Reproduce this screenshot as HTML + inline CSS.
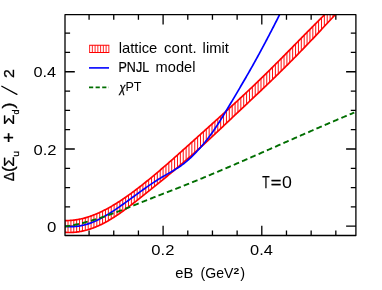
<!DOCTYPE html>
<html><head><meta charset="utf-8"><title>plot</title>
<style>
html,body{margin:0;padding:0;background:#fff;}
body{width:382px;height:290px;overflow:hidden;}
svg{display:block;will-change:transform;}
text{font-family:"Liberation Sans",sans-serif;fill:#000;}
</style></head><body>
<svg width="382" height="290" viewBox="0 0 382 290">
<rect width="382" height="290" fill="#fff"/>
<defs><clipPath id="c"><rect x="65.0" y="14.7" width="290.9" height="220.8"/></clipPath></defs>
<path d="M89.08,235.5v-5.1M89.08,14.7v5.1M113.75,235.5v-5.1M113.75,14.7v5.1M138.43,235.5v-5.1M138.43,14.7v5.1M163.10,235.5v-9.8M163.10,14.7v9.8M187.78,235.5v-5.1M187.78,14.7v5.1M212.45,235.5v-5.1M212.45,14.7v5.1M237.13,235.5v-5.1M237.13,14.7v5.1M261.80,235.5v-9.8M261.80,14.7v9.8M286.48,235.5v-5.1M286.48,14.7v5.1M311.15,235.5v-5.1M311.15,14.7v5.1M335.83,235.5v-5.1M335.83,14.7v5.1M65.0,226.20h9.8M355.9,226.20h-9.8M65.0,206.89h5.1M355.9,206.89h-5.1M65.0,187.59h5.1M355.9,187.59h-5.1M65.0,168.28h5.1M355.9,168.28h-5.1M65.0,148.98h9.8M355.9,148.98h-9.8M65.0,129.67h5.1M355.9,129.67h-5.1M65.0,110.37h5.1M355.9,110.37h-5.1M65.0,91.06h5.1M355.9,91.06h-5.1M65.0,71.76h9.8M355.9,71.76h-9.8M65.0,52.45h5.1M355.9,52.45h-5.1M65.0,33.15h5.1M355.9,33.15h-5.1" stroke="#000" stroke-width="1.3" fill="none"/>
<g clip-path="url(#c)" fill="none">
<path d="M65.15,220.51V232.40M68.03,220.51V232.51M70.91,220.38V232.48M73.79,220.11V232.33M76.67,219.72V232.04M79.55,219.20V231.62M82.43,218.56V231.08M85.31,217.81V230.41M88.19,216.94V229.61M91.07,215.97V228.69M93.95,214.89V227.65M96.83,213.71V226.49M99.71,212.43V225.21M102.59,211.07V223.81M105.47,209.61V222.30M108.35,208.06V220.68M111.23,206.44V218.96M114.11,204.74V217.14M116.99,202.96V215.24M119.87,201.12V213.27M122.75,199.21V211.23M125.63,197.24V209.13M128.51,195.21V206.99M131.39,193.13V204.80M134.27,190.99V202.57M137.15,188.82V200.32M140.03,186.59V198.06M142.91,184.34V195.78M145.79,182.04V193.49M148.67,179.71V191.20M151.55,177.35V188.89M154.43,174.96V186.58M157.31,172.54V184.25M160.19,170.09V181.90M163.07,167.63V179.55M165.95,165.14V177.18M168.83,162.63V174.79M171.71,160.10V172.39M174.59,157.56V169.98M177.47,155.00V167.54M180.35,152.44V165.09M183.23,149.86V162.62M186.11,147.28V160.14M188.99,144.69V157.63M191.87,142.10V155.10M194.75,139.51V152.55M197.63,136.92V149.98M200.51,134.33V147.39M203.39,131.74V144.77M206.27,129.15V142.13M209.15,126.56V139.47M212.03,123.97V136.79M214.91,121.37V134.08M217.79,118.77V131.37M220.67,116.16V128.64M223.55,113.55V125.91M226.43,110.93V123.17M229.31,108.30V120.44M232.19,105.66V117.70M235.07,103.01V114.97M237.95,100.35V112.25M240.83,97.68V109.54M243.71,95.00V106.83M246.59,92.30V104.12M249.47,89.59V101.41M252.35,86.86V98.70M255.23,84.11V95.99M258.11,81.35V93.27M260.99,78.57V90.54M263.87,75.77V87.80M266.75,72.95V85.05M269.63,70.11V82.28M272.51,67.25V79.50M275.39,64.37V76.70M278.27,61.49V73.89M281.15,58.59V71.06M284.03,55.68V68.22M286.91,52.76V65.35M289.79,49.84V62.47M292.67,46.91V59.57M295.55,43.98V56.65M298.43,41.04V53.71M301.31,38.11V50.75M304.19,35.18V47.78M307.07,32.26V44.77M309.95,29.35V41.75M312.83,26.44V38.71M315.71,23.54V35.65M318.59,20.66V32.57M321.47,17.79V29.48M324.35,14.93V26.39M327.23,14.70V23.29M330.11,14.70V20.19M332.99,14.70V17.09" stroke="#ff0000" stroke-width="0.95"/>
<path d="M64.40,220.49 L65.30,220.51 L66.20,220.53 L67.11,220.53 L68.01,220.51 L68.91,220.49 L69.81,220.45 L70.71,220.39 L71.61,220.33 L72.52,220.25 L73.42,220.15 L74.32,220.05 L75.22,219.93 L76.12,219.80 L77.02,219.66 L77.93,219.51 L78.83,219.34 L79.73,219.17 L80.63,218.98 L81.53,218.78 L82.43,218.56 L83.34,218.34 L84.24,218.10 L85.14,217.86 L86.04,217.60 L86.94,217.33 L87.84,217.05 L88.75,216.76 L89.65,216.46 L90.55,216.15 L91.45,215.83 L92.35,215.50 L93.25,215.16 L94.16,214.81 L95.06,214.45 L95.96,214.08 L96.86,213.70 L97.76,213.31 L98.66,212.91 L99.57,212.50 L100.47,212.08 L101.37,211.66 L102.27,211.22 L103.17,210.78 L104.07,210.32 L104.98,209.86 L105.88,209.39 L106.78,208.92 L107.68,208.43 L108.58,207.94 L109.48,207.43 L110.39,206.92 L111.29,206.41 L112.19,205.88 L113.09,205.35 L113.99,204.81 L114.89,204.26 L115.80,203.71 L116.70,203.15 L117.60,202.58 L118.50,202.00 L119.40,201.42 L120.30,200.84 L121.21,200.24 L122.11,199.64 L123.01,199.03 L123.91,198.42 L124.81,197.80 L125.71,197.18 L126.62,196.55 L127.52,195.92 L128.42,195.27 L129.32,194.63 L130.22,193.98 L131.12,193.32 L132.03,192.66 L132.93,191.99 L133.83,191.32 L134.73,190.65 L135.63,189.97 L136.53,189.29 L137.44,188.60 L138.34,187.90 L139.24,187.21 L140.14,186.51 L141.04,185.80 L141.94,185.10 L142.85,184.39 L143.75,183.67 L144.65,182.95 L145.55,182.23 L146.45,181.51 L147.35,180.78 L148.26,180.05 L149.16,179.31 L150.06,178.58 L150.96,177.83 L151.86,177.09 L152.76,176.34 L153.67,175.60 L154.57,174.84 L155.47,174.09 L156.37,173.33 L157.27,172.57 L158.17,171.81 L159.08,171.04 L159.98,170.28 L160.88,169.51 L161.78,168.73 L162.68,167.96 L163.58,167.18 L164.49,166.40 L165.39,165.62 L166.29,164.84 L167.19,164.06 L168.09,163.27 L168.99,162.48 L169.90,161.69 L170.80,160.90 L171.70,160.11 L172.60,159.31 L173.50,158.52 L174.40,157.72 L175.31,156.92 L176.21,156.12 L177.11,155.32 L178.01,154.52 L178.91,153.72 L179.81,152.91 L180.72,152.11 L181.62,151.30 L182.52,150.50 L183.42,149.69 L184.32,148.88 L185.22,148.07 L186.13,147.26 L187.03,146.45 L187.93,145.64 L188.83,144.83 L189.73,144.02 L190.63,143.21 L191.54,142.40 L192.44,141.59 L193.34,140.78 L194.24,139.97 L195.14,139.15 L196.04,138.34 L196.95,137.53 L197.85,136.72 L198.75,135.91 L199.65,135.10 L200.55,134.29 L201.45,133.48 L202.36,132.67 L203.26,131.86 L204.16,131.05 L205.06,130.24 L205.96,129.43 L206.86,128.62 L207.77,127.81 L208.67,126.99 L209.57,126.18 L210.47,125.37 L211.37,124.56 L212.27,123.75 L213.18,122.93 L214.08,122.12 L214.98,121.31 L215.88,120.49 L216.78,119.68 L217.68,118.86 L218.59,118.05 L219.49,117.23 L220.39,116.42 L221.29,115.60 L222.19,114.78 L223.09,113.96 L224.00,113.14 L224.90,112.32 L225.80,111.50 L226.70,110.68 L227.60,109.86 L228.50,109.03 L229.41,108.21 L230.31,107.39 L231.21,106.56 L232.11,105.73 L233.01,104.91 L233.91,104.08 L234.82,103.25 L235.72,102.42 L236.62,101.58 L237.52,100.75 L238.42,99.92 L239.32,99.08 L240.23,98.24 L241.13,97.41 L242.03,96.57 L242.93,95.73 L243.83,94.88 L244.73,94.04 L245.64,93.20 L246.54,92.35 L247.44,91.50 L248.34,90.65 L249.24,89.80 L250.14,88.95 L251.05,88.10 L251.95,87.24 L252.85,86.38 L253.75,85.53 L254.65,84.67 L255.55,83.80 L256.46,82.94 L257.36,82.07 L258.26,81.21 L259.16,80.34 L260.06,79.47 L260.96,78.59 L261.87,77.72 L262.77,76.84 L263.67,75.96 L264.57,75.08 L265.47,74.20 L266.37,73.32 L267.28,72.43 L268.18,71.54 L269.08,70.65 L269.98,69.76 L270.88,68.87 L271.78,67.97 L272.69,67.07 L273.59,66.17 L274.49,65.27 L275.39,64.37 L276.29,63.47 L277.19,62.57 L278.10,61.66 L279.00,60.75 L279.90,59.85 L280.80,58.94 L281.70,58.03 L282.60,57.12 L283.51,56.21 L284.41,55.29 L285.31,54.38 L286.21,53.47 L287.11,52.55 L288.01,51.64 L288.92,50.72 L289.82,49.81 L290.72,48.89 L291.62,47.97 L292.52,47.06 L293.42,46.14 L294.33,45.22 L295.23,44.30 L296.13,43.39 L297.03,42.47 L297.93,41.55 L298.83,40.63 L299.74,39.71 L300.64,38.80 L301.54,37.88 L302.44,36.96 L303.34,36.05 L304.24,35.13 L305.15,34.21 L306.05,33.30 L306.95,32.38 L307.85,31.47 L308.75,30.56 L309.65,29.64 L310.56,28.73 L311.46,27.82 L312.36,26.91 L313.26,26.00 L314.16,25.10 L315.06,24.19 L315.97,23.28 L316.87,22.38 L317.77,21.48 L318.67,20.57 L319.57,19.67 L320.47,18.78 L321.38,17.88 L322.28,16.98 L323.18,16.09 L324.08,15.20 L324.98,14.31 L325.88,13.42 L326.79,12.53 L327.69,11.64 L328.59,10.76 L329.49,9.88 L330.39,9.00 L331.29,8.12 L332.20,7.25 L333.10,6.38 L334.00,5.51" stroke="#ff0000" stroke-width="1.7"/>
<path d="M64.40,232.35 L65.34,232.41 L66.27,232.46 L67.21,232.49 L68.15,232.51 L69.08,232.51 L70.02,232.50 L70.95,232.48 L71.89,232.44 L72.83,232.39 L73.76,232.33 L74.70,232.25 L75.64,232.16 L76.57,232.05 L77.51,231.93 L78.44,231.80 L79.38,231.65 L80.32,231.49 L81.25,231.31 L82.19,231.13 L83.13,230.93 L84.06,230.71 L85.00,230.48 L85.93,230.24 L86.87,229.99 L87.81,229.72 L88.74,229.44 L89.68,229.15 L90.62,228.84 L91.55,228.53 L92.49,228.19 L93.42,227.85 L94.36,227.49 L95.30,227.12 L96.23,226.74 L97.17,226.34 L98.11,225.94 L99.04,225.52 L99.98,225.08 L100.92,224.64 L101.85,224.18 L102.79,223.71 L103.72,223.23 L104.66,222.73 L105.60,222.23 L106.53,221.71 L107.47,221.18 L108.41,220.64 L109.34,220.09 L110.28,219.53 L111.21,218.96 L112.15,218.38 L113.09,217.80 L114.02,217.20 L114.96,216.59 L115.90,215.97 L116.83,215.35 L117.77,214.72 L118.70,214.08 L119.64,213.43 L120.58,212.78 L121.51,212.12 L122.45,211.45 L123.39,210.77 L124.32,210.09 L125.26,209.41 L126.19,208.72 L127.13,208.02 L128.07,207.32 L129.00,206.61 L129.94,205.90 L130.88,205.19 L131.81,204.47 L132.75,203.75 L133.69,203.03 L134.62,202.30 L135.56,201.57 L136.49,200.84 L137.43,200.10 L138.37,199.37 L139.30,198.63 L140.24,197.89 L141.18,197.15 L142.11,196.41 L143.05,195.67 L143.98,194.93 L144.92,194.19 L145.86,193.44 L146.79,192.70 L147.73,191.95 L148.67,191.20 L149.60,190.45 L150.54,189.70 L151.47,188.95 L152.41,188.20 L153.35,187.45 L154.28,186.69 L155.22,185.94 L156.16,185.18 L157.09,184.42 L158.03,183.66 L158.97,182.90 L159.90,182.14 L160.84,181.38 L161.77,180.61 L162.71,179.84 L163.65,179.07 L164.58,178.30 L165.52,177.53 L166.46,176.76 L167.39,175.99 L168.33,175.21 L169.26,174.43 L170.20,173.65 L171.14,172.87 L172.07,172.09 L173.01,171.30 L173.95,170.52 L174.88,169.73 L175.82,168.94 L176.75,168.15 L177.69,167.36 L178.63,166.56 L179.56,165.76 L180.50,164.96 L181.44,164.16 L182.37,163.36 L183.31,162.56 L184.24,161.75 L185.18,160.94 L186.12,160.13 L187.05,159.32 L187.99,158.50 L188.93,157.68 L189.86,156.86 L190.80,156.04 L191.74,155.22 L192.67,154.39 L193.61,153.56 L194.54,152.73 L195.48,151.90 L196.42,151.07 L197.35,150.23 L198.29,149.39 L199.23,148.55 L200.16,147.70 L201.10,146.86 L202.03,146.01 L202.97,145.15 L203.91,144.30 L204.84,143.44 L205.78,142.58 L206.72,141.72 L207.65,140.86 L208.59,139.99 L209.52,139.12 L210.46,138.25 L211.40,137.38 L212.33,136.50 L213.27,135.62 L214.21,134.75 L215.14,133.87 L216.08,132.98 L217.01,132.10 L217.95,131.22 L218.89,130.33 L219.82,129.45 L220.76,128.56 L221.70,127.67 L222.63,126.78 L223.57,125.89 L224.51,125.00 L225.44,124.11 L226.38,123.22 L227.31,122.33 L228.25,121.44 L229.19,120.55 L230.12,119.66 L231.06,118.78 L232.00,117.89 L232.93,117.00 L233.87,116.11 L234.80,115.22 L235.74,114.34 L236.68,113.45 L237.61,112.57 L238.55,111.69 L239.49,110.80 L240.42,109.92 L241.36,109.04 L242.29,108.16 L243.23,107.28 L244.17,106.40 L245.10,105.52 L246.04,104.64 L246.98,103.76 L247.91,102.88 L248.85,102.00 L249.78,101.12 L250.72,100.24 L251.66,99.35 L252.59,98.47 L253.53,97.59 L254.47,96.71 L255.40,95.83 L256.34,94.94 L257.28,94.06 L258.21,93.17 L259.15,92.29 L260.08,91.40 L261.02,90.51 L261.96,89.62 L262.89,88.73 L263.83,87.84 L264.77,86.95 L265.70,86.05 L266.64,85.16 L267.57,84.26 L268.51,83.36 L269.45,82.46 L270.38,81.56 L271.32,80.65 L272.26,79.75 L273.19,78.84 L274.13,77.93 L275.06,77.02 L276.00,76.11 L276.94,75.19 L277.87,74.28 L278.81,73.36 L279.75,72.44 L280.68,71.52 L281.62,70.60 L282.56,69.68 L283.49,68.75 L284.43,67.82 L285.36,66.89 L286.30,65.96 L287.24,65.03 L288.17,64.09 L289.11,63.15 L290.05,62.21 L290.98,61.27 L291.92,60.33 L292.85,59.38 L293.79,58.44 L294.73,57.49 L295.66,56.54 L296.60,55.58 L297.54,54.63 L298.47,53.67 L299.41,52.71 L300.34,51.75 L301.28,50.78 L302.22,49.82 L303.15,48.85 L304.09,47.88 L305.03,46.91 L305.96,45.93 L306.90,44.95 L307.83,43.97 L308.77,42.99 L309.71,42.01 L310.64,41.02 L311.58,40.03 L312.52,39.04 L313.45,38.05 L314.39,37.05 L315.33,36.06 L316.26,35.06 L317.20,34.06 L318.13,33.06 L319.07,32.06 L320.01,31.05 L320.94,30.05 L321.88,29.04 L322.82,28.04 L323.75,27.03 L324.69,26.02 L325.62,25.02 L326.56,24.01 L327.50,23.00 L328.43,21.99 L329.37,20.99 L330.31,19.98 L331.24,18.97 L332.18,17.96 L333.11,16.96 L334.05,15.95 L334.99,14.95 L335.92,13.94 L336.86,12.94 L337.80,11.94 L338.73,10.94 L339.67,9.94 L340.60,8.94 L341.54,7.95 L342.48,6.96 L343.41,5.96 L344.35,4.98" stroke="#ff0000" stroke-width="1.7"/>
<path d="M64.40,226.20 L65.14,226.30 L65.88,226.38 L66.61,226.45 L67.35,226.51 L68.09,226.56 L68.83,226.59 L69.56,226.62 L70.30,226.64 L71.04,226.64 L71.78,226.63 L72.52,226.62 L73.25,226.59 L73.99,226.55 L74.73,226.50 L75.47,226.44 L76.20,226.37 L76.94,226.29 L77.68,226.20 L78.42,226.10 L79.16,225.99 L79.89,225.87 L80.63,225.73 L81.37,225.59 L82.11,225.44 L82.84,225.28 L83.58,225.11 L84.32,224.92 L85.06,224.73 L85.80,224.53 L86.53,224.32 L87.27,224.10 L88.01,223.87 L88.75,223.63 L89.48,223.38 L90.22,223.12 L90.96,222.86 L91.70,222.58 L92.44,222.29 L93.17,222.00 L93.91,221.69 L94.65,221.38 L95.39,221.06 L96.13,220.72 L96.86,220.38 L97.60,220.03 L98.34,219.68 L99.08,219.31 L99.81,218.94 L100.55,218.56 L101.29,218.17 L102.03,217.78 L102.77,217.37 L103.50,216.97 L104.24,216.55 L104.98,216.13 L105.72,215.70 L106.45,215.26 L107.19,214.82 L107.93,214.37 L108.67,213.92 L109.41,213.46 L110.14,213.00 L110.88,212.53 L111.62,212.06 L112.36,211.58 L113.09,211.10 L113.83,210.61 L114.57,210.12 L115.31,209.63 L116.05,209.13 L116.78,208.63 L117.52,208.12 L118.26,207.61 L119.00,207.10 L119.73,206.59 L120.47,206.07 L121.21,205.55 L121.95,205.03 L122.69,204.51 L123.42,203.98 L124.16,203.45 L124.90,202.92 L125.64,202.39 L126.37,201.86 L127.11,201.32 L127.85,200.79 L128.59,200.25 L129.33,199.72 L130.06,199.18 L130.80,198.64 L131.54,198.10 L132.28,197.56 L133.01,197.02 L133.75,196.48 L134.49,195.94 L135.23,195.41 L135.97,194.87 L136.70,194.33 L137.44,193.79 L138.18,193.25 L138.92,192.72 L139.65,192.18 L140.39,191.65 L141.13,191.12 L141.87,190.58 L142.61,190.05 L143.34,189.53 L144.08,189.00 L144.82,188.48 L145.56,187.95 L146.29,187.43 L147.03,186.92 L147.77,186.40 L148.51,185.89 L149.25,185.38 L149.98,184.87 L150.72,184.37 L151.46,183.87 L152.20,183.38 L152.94,182.88 L153.67,182.39 L154.41,181.91 L155.15,181.42 L155.89,180.95 L156.62,180.47 L157.36,180.00 L158.10,179.54 L158.84,179.08 L159.58,178.62 L160.31,178.17 L161.05,177.73 L161.79,177.29 L162.53,176.85 L163.26,176.42 L164.00,175.99 L164.74,175.57 L165.48,175.14 L166.22,174.72 L166.95,174.30 L167.69,173.88 L168.43,173.46 L169.17,173.04 L169.90,172.62 L170.64,172.19 L171.38,171.76 L172.12,171.33 L172.86,170.90 L173.59,170.46 L174.33,170.02 L175.07,169.57 L175.81,169.11 L176.54,168.65 L177.28,168.18 L178.02,167.70 L178.76,167.21 L179.50,166.71 L180.23,166.21 L180.97,165.69 L181.71,165.16 L182.45,164.62 L183.18,164.07 L183.92,163.50 L184.66,162.92 L185.40,162.33 L186.14,161.72 L186.87,161.09 L187.61,160.45 L188.35,159.80 L189.09,159.13 L189.82,158.45 L190.56,157.76 L191.30,157.06 L192.04,156.34 L192.78,155.61 L193.51,154.87 L194.25,154.12 L194.99,153.36 L195.73,152.59 L196.46,151.81 L197.20,151.03 L197.94,150.23 L198.68,149.43 L199.42,148.62 L200.15,147.81 L200.89,146.98 L201.63,146.15 L202.37,145.30 L203.11,144.44 L203.84,143.57 L204.58,142.69 L205.32,141.79 L206.06,140.87 L206.79,139.94 L207.53,138.99 L208.27,138.02 L209.01,137.04 L209.75,136.05 L210.48,135.04 L211.22,134.01 L211.96,132.97 L212.70,131.92 L213.43,130.86 L214.17,129.78 L214.91,128.69 L215.65,127.59 L216.39,126.48 L217.12,125.36 L217.86,124.23 L218.60,123.08 L219.34,121.93 L220.07,120.77 L220.81,119.60 L221.55,118.42 L222.29,117.24 L223.03,116.04 L223.76,114.84 L224.50,113.64 L225.24,112.42 L225.98,111.20 L226.71,109.98 L227.45,108.75 L228.19,107.52 L228.93,106.29 L229.67,105.05 L230.40,103.80 L231.14,102.56 L231.88,101.31 L232.62,100.06 L233.35,98.81 L234.09,97.56 L234.83,96.31 L235.57,95.06 L236.31,93.81 L237.04,92.56 L237.78,91.31 L238.52,90.06 L239.26,88.81 L239.99,87.56 L240.73,86.30 L241.47,85.05 L242.21,83.79 L242.95,82.53 L243.68,81.27 L244.42,80.00 L245.16,78.73 L245.90,77.46 L246.63,76.19 L247.37,74.91 L248.11,73.62 L248.85,72.33 L249.59,71.04 L250.32,69.74 L251.06,68.44 L251.80,67.13 L252.54,65.82 L253.27,64.50 L254.01,63.18 L254.75,61.85 L255.49,60.52 L256.23,59.18 L256.96,57.84 L257.70,56.50 L258.44,55.15 L259.18,53.80 L259.92,52.44 L260.65,51.07 L261.39,49.70 L262.13,48.33 L262.87,46.95 L263.60,45.57 L264.34,44.18 L265.08,42.79 L265.82,41.40 L266.56,40.00 L267.29,38.60 L268.03,37.19 L268.77,35.78 L269.51,34.37 L270.24,32.95 L270.98,31.53 L271.72,30.10 L272.46,28.68 L273.20,27.25 L273.93,25.81 L274.67,24.37 L275.41,22.93 L276.15,21.49 L276.88,20.05 L277.62,18.60 L278.36,17.15 L279.10,15.70 L279.84,14.24 L280.57,12.78 L281.31,11.32 L282.05,9.86 L282.79,8.40 L283.52,6.93 L284.26,5.46 L285.00,4.00" stroke="#0000ff" stroke-width="1.7"/>
<path d="M64.40,226.65 L65.37,226.51 L66.34,226.36 L67.31,226.21 L68.28,226.05 L69.25,225.88 L70.22,225.71 L71.19,225.53 L72.16,225.34 L73.13,225.15 L74.10,224.96 L75.07,224.76 L76.03,224.55 L77.00,224.34 L77.97,224.12 L78.94,223.90 L79.91,223.67 L80.88,223.44 L81.85,223.20 L82.82,222.96 L83.79,222.71 L84.76,222.46 L85.73,222.20 L86.70,221.94 L87.67,221.68 L88.64,221.40 L89.61,221.13 L90.58,220.85 L91.55,220.57 L92.52,220.28 L93.49,219.99 L94.46,219.70 L95.43,219.40 L96.40,219.10 L97.37,218.79 L98.33,218.48 L99.30,218.17 L100.27,217.85 L101.24,217.53 L102.21,217.21 L103.18,216.88 L104.15,216.55 L105.12,216.22 L106.09,215.88 L107.06,215.54 L108.03,215.20 L109.00,214.86 L109.97,214.51 L110.94,214.16 L111.91,213.81 L112.88,213.46 L113.85,213.10 L114.82,212.74 L115.79,212.38 L116.76,212.02 L117.73,211.65 L118.70,211.29 L119.67,210.92 L120.63,210.55 L121.60,210.18 L122.57,209.80 L123.54,209.43 L124.51,209.05 L125.48,208.67 L126.45,208.30 L127.42,207.92 L128.39,207.53 L129.36,207.15 L130.33,206.77 L131.30,206.38 L132.27,206.00 L133.24,205.61 L134.21,205.23 L135.18,204.84 L136.15,204.45 L137.12,204.06 L138.09,203.68 L139.06,203.29 L140.03,202.90 L141.00,202.51 L141.97,202.12 L142.93,201.73 L143.90,201.35 L144.87,200.96 L145.84,200.57 L146.81,200.18 L147.78,199.80 L148.75,199.41 L149.72,199.02 L150.69,198.64 L151.66,198.25 L152.63,197.87 L153.60,197.49 L154.57,197.11 L155.54,196.73 L156.51,196.35 L157.48,195.97 L158.45,195.59 L159.42,195.21 L160.39,194.84 L161.36,194.46 L162.33,194.08 L163.30,193.71 L164.27,193.33 L165.23,192.95 L166.20,192.58 L167.17,192.20 L168.14,191.83 L169.11,191.45 L170.08,191.07 L171.05,190.70 L172.02,190.32 L172.99,189.94 L173.96,189.57 L174.93,189.19 L175.90,188.81 L176.87,188.43 L177.84,188.05 L178.81,187.67 L179.78,187.28 L180.75,186.90 L181.72,186.52 L182.69,186.13 L183.66,185.75 L184.63,185.36 L185.60,184.97 L186.57,184.59 L187.53,184.20 L188.50,183.81 L189.47,183.42 L190.44,183.03 L191.41,182.63 L192.38,182.24 L193.35,181.85 L194.32,181.45 L195.29,181.06 L196.26,180.66 L197.23,180.27 L198.20,179.87 L199.17,179.47 L200.14,179.07 L201.11,178.67 L202.08,178.27 L203.05,177.87 L204.02,177.47 L204.99,177.07 L205.96,176.67 L206.93,176.26 L207.90,175.86 L208.87,175.45 L209.83,175.05 L210.80,174.64 L211.77,174.24 L212.74,173.83 L213.71,173.42 L214.68,173.02 L215.65,172.61 L216.62,172.20 L217.59,171.79 L218.56,171.38 L219.53,170.97 L220.50,170.56 L221.47,170.14 L222.44,169.73 L223.41,169.32 L224.38,168.91 L225.35,168.49 L226.32,168.08 L227.29,167.66 L228.26,167.25 L229.23,166.83 L230.20,166.42 L231.17,166.00 L232.13,165.58 L233.10,165.17 L234.07,164.75 L235.04,164.33 L236.01,163.91 L236.98,163.49 L237.95,163.07 L238.92,162.65 L239.89,162.23 L240.86,161.81 L241.83,161.39 L242.80,160.97 L243.77,160.55 L244.74,160.13 L245.71,159.71 L246.68,159.28 L247.65,158.86 L248.62,158.44 L249.59,158.01 L250.56,157.59 L251.53,157.17 L252.50,156.74 L253.47,156.32 L254.43,155.89 L255.40,155.47 L256.37,155.04 L257.34,154.62 L258.31,154.19 L259.28,153.77 L260.25,153.34 L261.22,152.92 L262.19,152.49 L263.16,152.06 L264.13,151.64 L265.10,151.21 L266.07,150.78 L267.04,150.36 L268.01,149.93 L268.98,149.50 L269.95,149.08 L270.92,148.65 L271.89,148.22 L272.86,147.79 L273.83,147.37 L274.80,146.94 L275.77,146.51 L276.73,146.09 L277.70,145.66 L278.67,145.23 L279.64,144.80 L280.61,144.37 L281.58,143.95 L282.55,143.52 L283.52,143.09 L284.49,142.66 L285.46,142.24 L286.43,141.81 L287.40,141.38 L288.37,140.96 L289.34,140.53 L290.31,140.10 L291.28,139.67 L292.25,139.25 L293.22,138.82 L294.19,138.39 L295.16,137.97 L296.13,137.54 L297.10,137.12 L298.07,136.69 L299.03,136.26 L300.00,135.84 L300.97,135.41 L301.94,134.99 L302.91,134.56 L303.88,134.14 L304.85,133.71 L305.82,133.29 L306.79,132.86 L307.76,132.44 L308.73,132.02 L309.70,131.59 L310.67,131.17 L311.64,130.75 L312.61,130.32 L313.58,129.90 L314.55,129.48 L315.52,129.06 L316.49,128.64 L317.46,128.22 L318.43,127.79 L319.40,127.37 L320.37,126.95 L321.33,126.53 L322.30,126.12 L323.27,125.70 L324.24,125.28 L325.21,124.86 L326.18,124.44 L327.15,124.03 L328.12,123.61 L329.09,123.19 L330.06,122.78 L331.03,122.36 L332.00,121.95 L332.97,121.53 L333.94,121.12 L334.91,120.70 L335.88,120.29 L336.85,119.88 L337.82,119.47 L338.79,119.05 L339.76,118.64 L340.73,118.23 L341.70,117.82 L342.67,117.41 L343.63,117.00 L344.60,116.60 L345.57,116.19 L346.54,115.78 L347.51,115.38 L348.48,114.97 L349.45,114.56 L350.42,114.16 L351.39,113.76 L352.36,113.35 L353.33,112.95 L354.30,112.55" stroke="#006e00" stroke-width="1.9" stroke-dasharray="5.8,3.23"/>
</g>
<rect x="65.0" y="14.7" width="290.9" height="220.80" fill="none" stroke="#000" stroke-width="1.3" stroke-linejoin="round"/>
<g fill="none">
<path d="M89.2,45.3H109.25M89.2,52.5H109.25" stroke="#ff0000" stroke-width="1.1"/>
<path d="M89.6,45.3v7.2M108.85,45.3v7.2" stroke="#ff0000" stroke-width="0.85"/>
<path d="M92.35,45.3v7.2M95.10,45.3v7.2M97.85,45.3v7.2M100.60,45.3v7.2M103.35,45.3v7.2M106.10,45.3v7.2" stroke="#ff0000" stroke-width="0.85"/>
<path d="M89,67.9H109" stroke="#0000ff" stroke-width="1.6"/>
<path d="M89,87.3H109" stroke="#006e00" stroke-width="1.7" stroke-dasharray="4.2,2.4"/>
</g>
<text x="118.75" y="53.00" font-size="14.5" textLength="38.55" lengthAdjust="spacingAndGlyphs">lattice</text>
<text x="164.12" y="53.00" font-size="14.5" textLength="32.51" lengthAdjust="spacingAndGlyphs">cont.</text>
<text x="202.62" y="53.00" font-size="14.5" textLength="26.18" lengthAdjust="spacingAndGlyphs">limit</text>
<text x="118.50" y="72.40" font-size="14.2" textLength="30.64" lengthAdjust="spacingAndGlyphs" stroke="#000" stroke-width="0.2">PNJL</text>
<text x="155.62" y="72.40" font-size="14.5" textLength="39.77" lengthAdjust="spacingAndGlyphs">model</text>
<text x="119.50" y="92.00" font-size="13.5" textLength="5.88" lengthAdjust="spacingAndGlyphs" font-style="italic" stroke="#000" stroke-width="0.35">χ</text>
<text x="125.50" y="90.90" font-size="13.5" textLength="16.04" lengthAdjust="spacingAndGlyphs">PT</text>
<text x="262.13" y="187.70" font-size="15.7" textLength="7.36" lengthAdjust="spacingAndGlyphs" stroke="#000" stroke-width="0.25">T</text>
<text x="270.75" y="187.70" font-size="15.7" textLength="10.66" lengthAdjust="spacingAndGlyphs" stroke="#000" stroke-width="0.3">=</text>
<text x="282.13" y="187.70" font-size="15.7" textLength="9.90" lengthAdjust="spacingAndGlyphs">0</text>
<text x="33.50" y="77.30" font-size="15.0" textLength="22.65" lengthAdjust="spacingAndGlyphs">0.4</text>
<text x="33.50" y="154.50" font-size="15.0" textLength="23.08" lengthAdjust="spacingAndGlyphs">0.2</text>
<text x="47.00" y="231.70" font-size="15.0" textLength="9.36" lengthAdjust="spacingAndGlyphs">0</text>
<text x="151.38" y="254.50" font-size="15.0" textLength="23.08" lengthAdjust="spacingAndGlyphs">0.2</text>
<text x="250.13" y="254.50" font-size="15.0" textLength="22.79" lengthAdjust="spacingAndGlyphs">0.4</text>
<text x="175.38" y="278.40" font-size="14.5" textLength="18.02" lengthAdjust="spacingAndGlyphs">eB</text>
<text x="200.62" y="278.40" font-size="14.5" textLength="32.82" lengthAdjust="spacingAndGlyphs">(GeV</text>
<text x="233.62" y="274.20" font-size="8.5" textLength="5.74" lengthAdjust="spacingAndGlyphs" font-weight="bold">2</text>
<text x="240.25" y="278.40" font-size="14.5" textLength="4.86" lengthAdjust="spacingAndGlyphs">)</text>
<g transform="translate(14.0,180.9) rotate(-90)" stroke="#000" stroke-width="0.3">
<text x="-0.38" y="0.00" font-size="15.0" textLength="9.16" lengthAdjust="spacingAndGlyphs">Δ</text>
<text x="8.85" y="0.00" font-size="16.5" textLength="5.64" lengthAdjust="spacingAndGlyphs">(</text>
<text x="14.12" y="0.00" font-size="14.9" textLength="10.07" lengthAdjust="spacingAndGlyphs">Σ</text>
<text x="24.20" y="4.70" font-size="9.8" textLength="5.81" lengthAdjust="spacingAndGlyphs">u</text>
<text x="38.10" y="1.10" font-size="17.6" textLength="10.35" lengthAdjust="spacingAndGlyphs">+</text>
<text x="56.12" y="0.00" font-size="14.9" textLength="10.30" lengthAdjust="spacingAndGlyphs">Σ</text>
<text x="66.50" y="4.90" font-size="9.8" textLength="5.04" lengthAdjust="spacingAndGlyphs">d</text>
<text x="72.40" y="0.00" font-size="16.5" textLength="5.86" lengthAdjust="spacingAndGlyphs">)</text>
<text x="102.95" y="0.00" font-size="14.9" textLength="8.82" lengthAdjust="spacingAndGlyphs">2</text>
<path d="M86.5,2.9L94.7,-12.2" fill="none" stroke="#000" stroke-width="1.25" stroke-linecap="round"/>
</g>
</svg>
</body></html>
